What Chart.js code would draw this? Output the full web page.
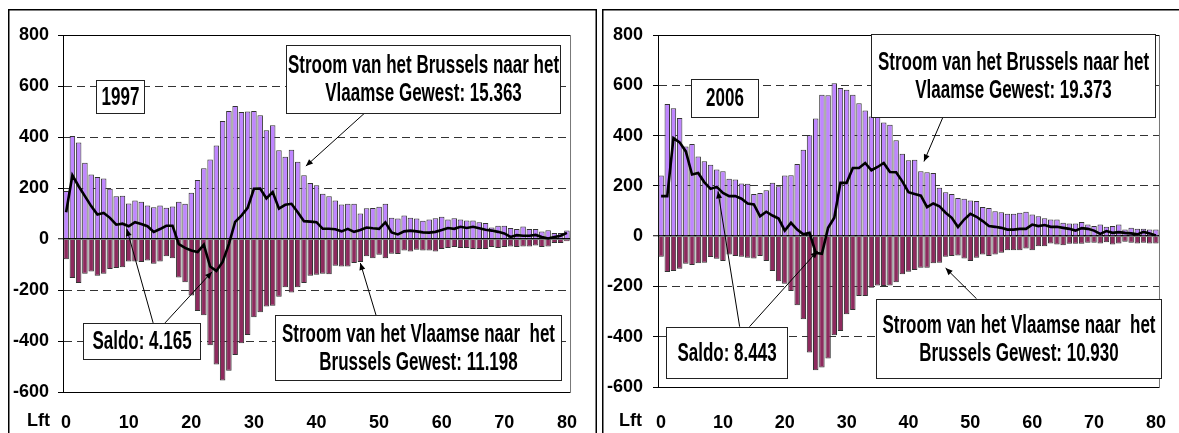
<!DOCTYPE html>
<html>
<head>
<meta charset="utf-8">
<script src="https://cdn.jsdelivr.net/npm/chart.js@4.4.1/dist/chart.umd.min.js"></script>
<style>
html, body { margin: 0; padding: 0; background: #fff; width: 1179px; height: 433px; overflow: hidden; }
.panel { position: absolute; top: 9px; }
#p1997 { left: 8px; }
#p2006 { left: 602px; }
</style>
</head>
<body>
<div class="panel" id="p1997"><canvas id="c1997" width="589" height="440"></canvas></div>
<div class="panel" id="p2006"><canvas id="c2006" width="589" height="440"></canvas></div>
<script>
// leeftijden (Lft)
const ages = [0,1,2,3,4,5,6,7,8,9,10,11,12,13,14,15,16,17,18,19,20,21,22,23,24,25,26,27,28,29,30,
  31,32,33,34,35,36,37,38,39,40,41,42,43,44,45,46,47,48,49,50,51,52,53,54,55,56,57,58,59,60,
  61,62,63,64,65,66,67,68,69,70,71,72,73,74,75,76,77,78,79,80];
const yTicks = [-600, -400, -200, 0, 200, 400, 600, 800];

// 1997
const naarVlaams1997 = [188,404,378,299,253,243,237,197,168,170,139,151,146,131,125,131,123,127,146,138,
  181,231,277,312,367,463,502,522,498,500,502,485,426,446,348,323,350,303,250,220,
  211,177,168,151,135,138,138,100,121,122,126,138,83,80,92,83,80,72,76,81,
  87,76,81,76,73,73,66,63,45,52,52,43,39,49,39,39,29,34,24,24,33];
const naarBrussels1997 = [-79,-153,-173,-136,-127,-144,-136,-118,-114,-111,-88,-88,-90,-84,-97,-88,-68,-75,-151,-170,
  -222,-282,-299,-417,-492,-555,-517,-455,-409,-376,-307,-287,-265,-262,-226,-189,-210,-189,-173,-144,
  -140,-136,-138,-105,-108,-108,-94,-90,-68,-75,-62,-75,-58,-59,-45,-49,-42,-45,-45,-49,
  -39,-35,-31,-35,-35,-39,-39,-39,-31,-35,-31,-29,-31,-29,-29,-25,-31,-29,-16,-16,-9];
const saldo1997 = [105,250,207,168,129,96,102,83,56,60,50,66,59,50,28,39,52,52,-20,-35,
  -45,-51,-22,-108,-125,-90,-20,67,92,122,197,198,159,184,119,134,138,105,70,68,
  66,40,40,38,30,40,28,35,45,42,40,65,26,18,30,33,30,26,25,28,
  35,43,40,48,43,48,42,36,33,28,22,8,15,13,13,16,8,2,8,13,24];

// 2006
const naarVlaams2006 = [241,526,509,470,357,366,317,298,284,265,258,228,225,209,208,168,172,183,212,198,
  241,242,287,344,401,468,562,560,608,589,582,562,529,500,476,474,452,443,381,328,
  302,304,258,254,251,192,175,168,152,149,142,140,116,112,99,95,89,89,93,97,
  86,79,71,66,66,53,50,50,56,46,40,46,37,40,46,26,33,29,29,26,26];
const naarBrussels2006 = [-82,-143,-139,-130,-110,-115,-108,-106,-83,-90,-99,-73,-79,-82,-86,-89,-79,-99,-139,-179,
  -189,-218,-275,-331,-463,-533,-522,-487,-394,-377,-311,-294,-238,-238,-205,-196,-198,-196,-183,-152,
  -142,-135,-126,-126,-108,-106,-82,-79,-77,-89,-99,-86,-73,-79,-73,-66,-56,-56,-56,-49,
  -56,-40,-40,-29,-33,-36,-30,-30,-30,-26,-26,-29,-24,-33,-29,-22,-26,-29,-26,-29,-29];
const saldo2006 = [159,159,390,373,337,245,251,214,188,196,172,159,159,149,130,126,79,97,82,70,
  22,53,26,7,13,-66,-70,33,73,212,212,271,271,291,262,275,291,255,254,218,
  175,168,161,115,130,119,93,73,36,66,89,77,60,40,37,33,26,26,29,29,
  46,40,44,37,37,33,29,22,32,29,22,9,20,13,16,13,11,7,17,11,3];

Chart.defaults.font.family = '"Liberation Sans", Arial, sans-serif';
Chart.defaults.color = '#000';

const tickFont = { size: 18, weight: 'bold' };
const boxFont = 'bold 25px "Liberation Sans", Arial, sans-serif';
const squeeze = 0.68;

function arrow(ctx, x1, y1, x2, y2) {
    ctx.beginPath();
    ctx.moveTo(x1, y1);
    ctx.lineTo(x2, y2);
    ctx.stroke();
    let ang = Math.atan2(y2 - y1, x2 - x1);
    ctx.beginPath();
    ctx.moveTo(x2, y2);
    ctx.lineTo(x2 - 7 * Math.cos(ang) + 3 * Math.sin(ang), y2 - 7 * Math.sin(ang) - 3 * Math.cos(ang));
    ctx.lineTo(x2 - 7 * Math.cos(ang) - 3 * Math.sin(ang), y2 - 7 * Math.sin(ang) + 3 * Math.cos(ang));
    ctx.closePath();
    ctx.fill();
}

// kaders, pijlen, tekstvakken
const decoPlugin = {
    id: 'deco',
    beforeDatasetsDraw(chart) {
        let {ctx, chartArea: a} = chart;
        ctx.save();
        ctx.lineWidth = 1;
        ctx.strokeStyle = '#000';
        ctx.beginPath();
        ctx.moveTo(a.right, a.top + 0.5);
        ctx.lineTo(a.left + 0.5, a.top + 0.5);
        ctx.lineTo(a.left + 0.5, a.bottom + 0.5);
        ctx.lineTo(a.right, a.bottom + 0.5);
        ctx.stroke();
        ctx.strokeStyle = '#777';
        ctx.beginPath();
        ctx.moveTo(a.right + 0.5, a.top);
        ctx.lineTo(a.right + 0.5, a.bottom + 1);
        ctx.stroke();
        ctx.restore();
    },
    afterDraw(chart, args, opts) {
        let {ctx, chartArea: a, scales: {x, y}} = chart;
        ctx.save();
        // buitenkader
        ctx.strokeStyle = '#000';
        ctx.lineWidth = 1.5;
        ctx.beginPath();
        ctx.moveTo(0.75, chart.height);
        ctx.lineTo(0.75, 0.75);
        ctx.lineTo(chart.width - 0.75, 0.75);
        ctx.lineTo(chart.width - 0.75, chart.height);
        ctx.stroke();

        // Lft
        ctx.font = 'bold 18px "Liberation Sans", Arial, sans-serif';
        ctx.fillStyle = '#000';
        ctx.textAlign = 'right';
        ctx.textBaseline = 'top';
        ctx.fillText('Lft', a.left - opts.lftGap, x.top + opts.xPad);

        // pijlen
        ctx.lineWidth = 1;
        ctx.strokeStyle = '#000';
        ctx.fillStyle = '#000';
        opts.arrows.forEach(ar => {
            arrow(ctx, x.getPixelForValue(ar.from[0]), y.getPixelForValue(ar.from[1]),
                x.getPixelForValue(ar.to[0]), y.getPixelForValue(ar.to[1]));
        });

        // tekstvakken
        opts.boxes.forEach(b => {
            let x0 = Math.round(x.getPixelForValue(b.a[0])) + 0.5;
            let x1 = Math.round(x.getPixelForValue(b.a[1])) + 0.5;
            let y0 = Math.round(y.getPixelForValue(b.v[0])) + 0.5;
            let y1 = Math.round(y.getPixelForValue(b.v[1])) + 0.5;
            ctx.fillStyle = '#fff';
            ctx.fillRect(x0, y0, x1 - x0, y1 - y0);
            ctx.strokeStyle = '#222';
            ctx.lineWidth = 1;
            ctx.strokeRect(x0, y0, x1 - x0, y1 - y0);
            ctx.fillStyle = '#000';
            ctx.font = boxFont;
            ctx.textAlign = 'center';
            ctx.textBaseline = 'middle';
            let cx = (x0 + x1) / 2, cy = (y0 + y1) / 2;
            b.lines.forEach((t, i) => {
                let ty = cy + (i - (b.lines.length - 1) / 2) * 28 + 1;
                ctx.save();
                ctx.translate(cx, ty);
                ctx.scale(squeeze, 1);
                ctx.fillText(t, 0, 0);
                ctx.restore();
            });
        });
        ctx.restore();
    }
};

function makePanel(id, cfg) {
    let canvas = document.getElementById(id);
    return new Chart(canvas, {
        type: 'bar',
        data: {
            labels: ages,
            datasets: [{
                type: 'line',
                label: 'Saldo',
                data: cfg.saldo,
                borderColor: '#000',
                borderWidth: 2.6,
                pointRadius: 0,
                tension: 0,
                order: 0
            }, {
                label: 'Stroom van het Brussels naar het Vlaamse Gewest',
                data: cfg.uit,
                backgroundColor: '#BF86FF',
                borderColor: '#333',
                borderWidth: 1,
                barPercentage: 0.88,
                categoryPercentage: 1,
                order: 1
            }, {
                label: 'Stroom van het Vlaamse naar het Brussels Gewest',
                data: cfg.in,
                backgroundColor: '#8E2A5E',
                borderColor: '#333',
                borderWidth: 1,
                barPercentage: 0.88,
                categoryPercentage: 1,
                order: 2
            }]
        },
        options: {
            responsive: false,
            animation: false,
            devicePixelRatio: 1,
            layout: { padding: { left: 0, top: 26, right: 15, bottom: 0 } },
            plugins: {
                legend: { display: false },
                tooltip: { enabled: false },
                deco: cfg.deco
            },
            scales: {
                x: {
                    stacked: true,
                    grid: { display: false, drawTicks: false },
                    border: { display: false },
                    ticks: {
                        autoSkip: false,
                        maxRotation: 0,
                        minRotation: 0,
                        padding: cfg.deco.xPad,
                        font: tickFont,
                        color: '#000',
                        callback: (v, i) => ages[i] % 10 === 0 ? String(ages[i]) : ''
                    },
                    afterFit: s => { s.height = cfg.xHeight; }
                },
                y: {
                    min: -600,
                    max: 800,
                    afterBuildTicks: s => { s.ticks = yTicks.map(v => ({ value: v })); },
                    grid: {
                        color: c => c.tick && c.tick.value === 0 ? '#000' : '#333',
                        lineWidth: c => c.tick && c.tick.value === 0 ? 1.5 : 1,
                        drawTicks: true,
                        tickLength: 5,
                        tickColor: '#000',
                        tickWidth: 1,
                        tickBorderDash: []
                    },
                    border: {
                        display: true,
                        color: '#000',
                        width: 1,
                        dash: c => c.tick && [0, 800, -600].includes(c.tick.value) ? [] : [8, 5]
                    },
                    ticks: { padding: cfg.yPad, font: tickFont, color: '#000' },
                    afterFit: s => { s.width = cfg.yWidth; }
                }
            }
        },
        plugins: [decoPlugin]
    });
}

makePanel('c1997', {
    uit: naarVlaams1997,
    in: naarBrussels1997,
    saldo: saldo1997,
    yWidth: 55,
    yPad: 9,
    xHeight: 57,
    deco: {
        xPad: 20,
        lftGap: 13,
        boxes: [
            { a: [4.84, 12.5], v: [624, 494], lines: ['1997'] },
            { a: [35.2, 78.9], v: [761, 494], lines: ['Stroom van het Brussels naar het', 'Vlaamse Gewest: 15.363'] },
            { a: [2.66, 21.4], v: [-329, -471], lines: ['Saldo: 4.165'] },
            { a: [33.4, 79.1], v: [-298, -553], lines: ['Stroom van het Vlaamse naar  het', 'Brussels Gewest: 11.198'] }
        ],
        arrows: [
            { from: [47.7, 494], to: [38.3, 286] },
            { from: [13.9, -329], to: [9.7, 39] },
            { from: [15.8, -329], to: [23.3, -129] },
            { from: [49.5, -298], to: [47.0, -94] }
        ]
    }
});

makePanel('c2006', {
    uit: naarVlaams2006,
    in: naarBrussels2006,
    saldo: saldo2006,
    yWidth: 56,
    yPad: 10,
    xHeight: 62,
    deco: {
        xPad: 25,
        lftGap: 16,
        boxes: [
            { a: [4.86, 15.64], v: [626, 475], lines: ['2006'] },
            { a: [33.9, 79.9], v: [804, 475], lines: ['Stroom van het Brussels naar het', 'Vlaamse Gewest: 19.373'] },
            { a: [0.8, 20.3], v: [-360, -566], lines: ['Saldo: 8.443'] },
            { a: [34.7, 80.8], v: [-249, -566], lines: ['Stroom van het Vlaamse naar  het', 'Brussels Gewest: 10.930'] }
        ],
        arrows: [
            { from: [45.6, 475], to: [42.5, 297] },
            { from: [12.7, -360], to: [9.2, 178] },
            { from: [14.3, -360], to: [25.3, -59] },
            { from: [51, -249], to: [46, -127] }
        ]
    }
});
</script>
</body>
</html>
